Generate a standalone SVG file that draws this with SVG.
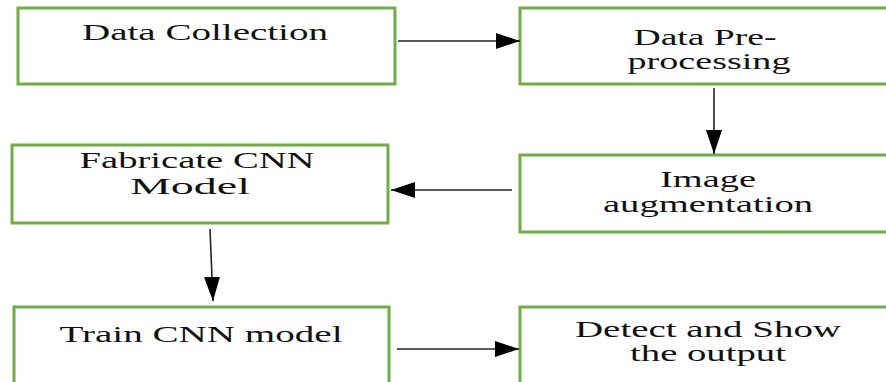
<svg xmlns="http://www.w3.org/2000/svg" width="886" height="382" viewBox="0 0 886 382">
<style>
.box{fill:#fff;stroke:#70AD47;stroke-width:3}
.t{font-size:24px;fill:#111;text-anchor:middle}
.c{stroke:#222;stroke-width:1.6;fill:none}
</style>
<defs>
<marker id="ah" viewBox="0 0 24 16" refX="24" refY="8" markerWidth="24" markerHeight="16" markerUnits="userSpaceOnUse" orient="auto">
<path d="M0,0 L24,8 L0,16 Z" fill="#000"/>
</marker>
</defs>
<rect width="886" height="382" fill="#fff"/>
<g font-family="Liberation Serif, DejaVu Serif, serif">
<g id="n1">
<rect class="box" x="18" y="8" width="377" height="76"/>
<text class="t" x="205" y="40" textLength="246" lengthAdjust="spacingAndGlyphs">Data Collection</text>
</g>
<g id="n2">
<rect class="box" x="520" y="8" width="380" height="76"/>
<text class="t" x="705" y="45" textLength="143" lengthAdjust="spacingAndGlyphs">Data Pre-</text>
<text class="t" x="709" y="69" textLength="163" lengthAdjust="spacingAndGlyphs">processing</text>
</g>
<g id="n3">
<rect class="box" x="520" y="155" width="380" height="77"/>
<text class="t" x="708" y="187" textLength="96" lengthAdjust="spacingAndGlyphs">Image</text>
<text class="t" x="708" y="212" textLength="210" lengthAdjust="spacingAndGlyphs">augmentation</text>
</g>
<g id="n4">
<rect class="box" x="12" y="145" width="376" height="78"/>
<text class="t" x="197" y="168" textLength="235" lengthAdjust="spacingAndGlyphs">Fabricate CNN</text>
<text class="t" x="190" y="194" textLength="120" lengthAdjust="spacingAndGlyphs">Model</text>
</g>
<g id="n5">
<rect class="box" x="14" y="307" width="375" height="90"/>
<text class="t" x="201" y="342" textLength="283" lengthAdjust="spacingAndGlyphs">Train CNN model</text>
</g>
<g id="n6">
<rect class="box" x="520" y="307" width="380" height="90"/>
<text class="t" x="708" y="337" textLength="266" lengthAdjust="spacingAndGlyphs">Detect and Show</text>
<text class="t" x="708" y="361" textLength="156" lengthAdjust="spacingAndGlyphs">the output</text>
</g>
</g>
<g id="connectors">
<line class="c" x1="398" y1="41" x2="520" y2="41" marker-end="url(#ah)"/>
<line class="c" x1="714" y1="88" x2="714" y2="154" marker-end="url(#ah)"/>
<line class="c" x1="512" y1="190" x2="391" y2="190" marker-end="url(#ah)"/>
<line class="c" x1="210" y1="229" x2="213" y2="301" marker-end="url(#ah)"/>
<line class="c" x1="397" y1="349" x2="519" y2="349" marker-end="url(#ah)"/>
</g>
</svg>
